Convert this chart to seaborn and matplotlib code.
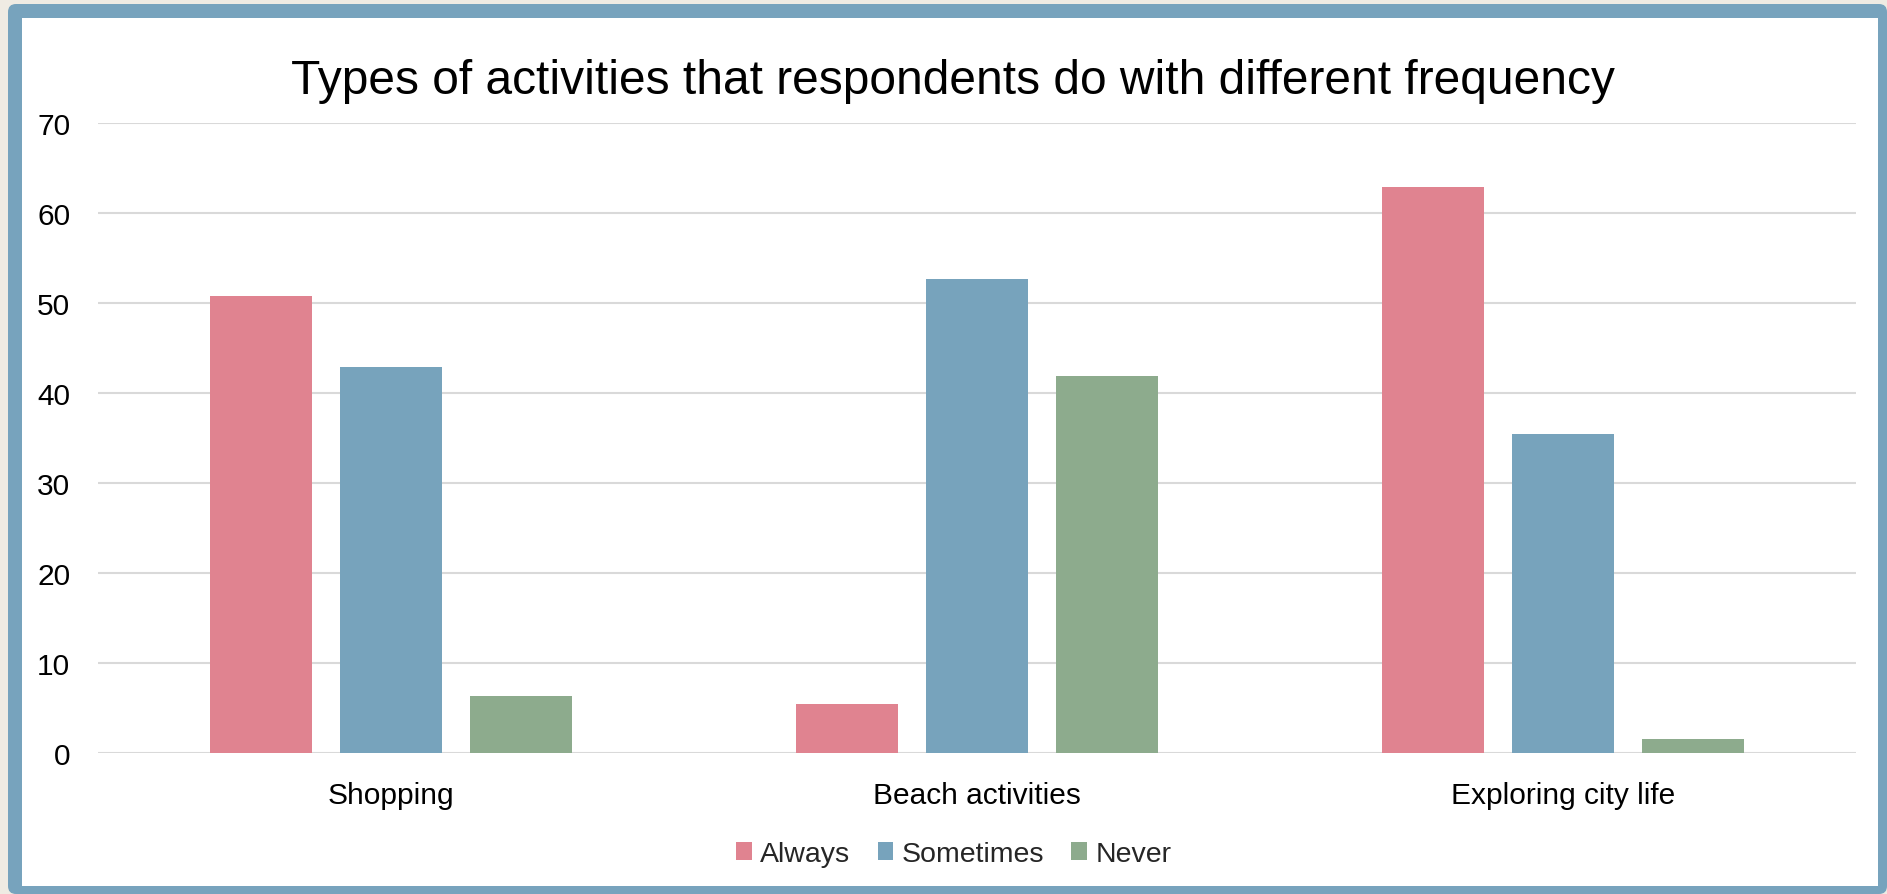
import pandas as pd
import seaborn as sns
import matplotlib.pyplot as plt
from matplotlib.patches import FancyBboxPatch, Rectangle

# data (percent of respondents)
activities = ['Shopping', 'Beach activities', 'Exploring city life']
always = [50.8, 5.4, 62.9]
sometimes = [42.9, 52.7, 35.5]
never = [6.3, 41.9, 1.6]
frequencies = ['Always', 'Sometimes', 'Never']
colors = ['#E08390', '#77A3BC', '#8DAB8D']

df = pd.DataFrame({'Activity': activities, 'Always': always,
                   'Sometimes': sometimes, 'Never': never})
df_melted = df.melt(id_vars='Activity', value_vars=frequencies,
                    var_name='Frequency', value_name='Percent')

sns.set_style('white')
plt.rcParams['font.family'] = ['Liberation Sans', 'DejaVu Sans']

W, H = 1887, 895
fig = plt.figure(figsize=(W / 100, H / 100), dpi=100)
fig.patch.set_facecolor('#EFEBE3')

# blue frame with white inner panel
frame = FancyBboxPatch((8 / 100, 0), (W - 8) / 100, (H - 5) / 100,
                       boxstyle='round,pad=0,rounding_size=0.08',
                       transform=fig.dpi_scale_trans, facecolor='#77A3BD',
                       edgecolor='none', zorder=0)
fig.add_artist(frame)
inner = Rectangle((22 / 100, 8 / 100), (1878 - 22) / 100, (887 - 19) / 100,
                  transform=fig.dpi_scale_trans, facecolor='white',
                  edgecolor='none', zorder=0)
fig.add_artist(inner)

ax = fig.add_axes([98 / W, 1 - 754 / H, (1856 - 98) / W, (754 - 124) / H])
ax.set_facecolor('none')
sns.barplot(data=df_melted, x='Activity', y='Percent', hue='Frequency',
            palette=colors, saturation=1, width=0.666, gap=0.216, linewidth=0,
            ax=ax, legend=False, zorder=3)

ax.set_ylim(0, 70)
ax.set_yticks(range(0, 71, 10))
ax.set_xlim(-0.5, 2.5)
ax.grid(axis='y', color='#D9D9D9', linewidth=1.5, zorder=0)
ax.set_axisbelow(True)
for s in ax.spines.values():
    s.set_visible(False)
ax.set_xlabel(None)
ax.set_ylabel(None)
ax.tick_params(axis='y', length=0, pad=20, labelsize=21.5, labelcolor='black')
ax.tick_params(axis='x', length=0, pad=20, labelsize=21.5, labelcolor='black')

fig.text(0.505, 1 - 82 / H, 'Types of activities that respondents do with different frequency',
         ha='center', va='center', fontsize=34.5, color='black')

handles = [Rectangle((0, 0), 1, 1, facecolor=c, edgecolor='none') for c in colors]
fig.legend(handles, frequencies, loc='center', bbox_to_anchor=(0.5055, 1 - 855 / H),
           ncol=3, frameon=False, fontsize=20.5, handlelength=0.55, handleheight=0.55,
           handletextpad=0.3, columnspacing=0.95)

fig.savefig('out.png', dpi=100, facecolor=fig.get_facecolor())
